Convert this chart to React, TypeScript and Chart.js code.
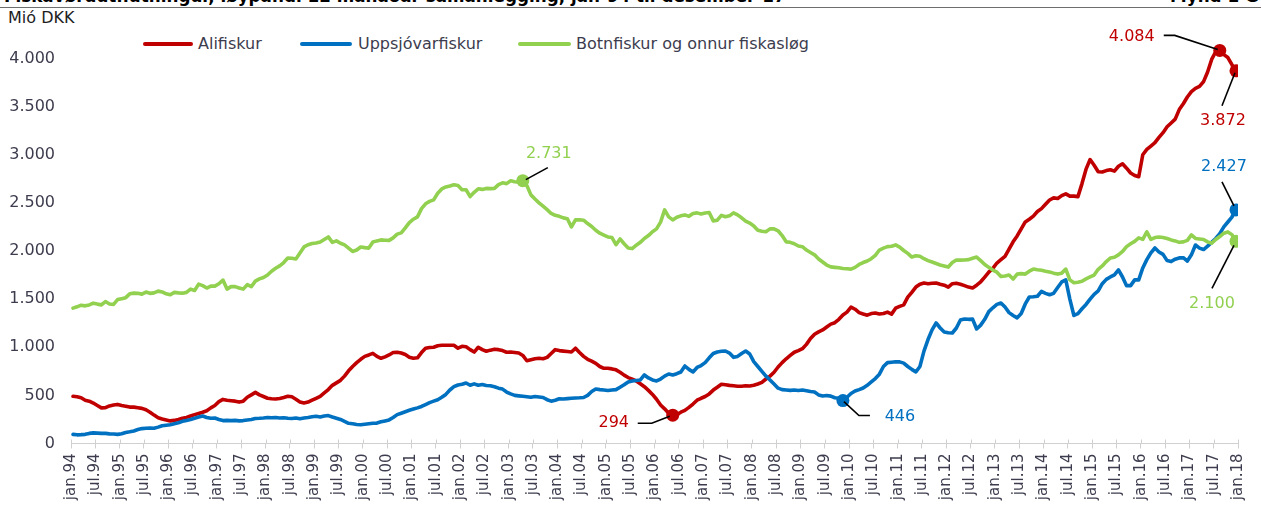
import React, { useEffect, useRef } from 'react';
import { Chart, registerables } from 'chart.js';
Chart.register(...registerables);

const FONT = '"DejaVu Sans", Verdana, sans-serif';
const TEXT = '#3c3c4e';

const seriesNames = ['Alifiskur', 'Uppsjóvarfiskur', 'Botnfiskur og onnur fiskasløg'];
const seriesColors = ['#C00000', '#0070C0', '#92D050'];

const yTicks = [0, 500, 1000, 1500, 2000, 2500, 3000, 3500, 4000];

const tickLabels = [
  'jan.94','jul.94','jan.95','jul.95','jan.96','jul.96','jan.97','jul.97','jan.98','jul.98',
  'jan.99','jul.99','jan.00','jul.00','jan.01','jul.01','jan.02','jul.02','jan.03','jul.03',
  'jan.04','jul.04','jan.05','jul.05','jan.06','jul.06','jan.07','jul.07','jan.08','jul.08',
  'jan.09','jul.09','jan.10','jul.10','jan.11','jul.11','jan.12','jul.12','jan.13','jul.13',
  'jan.14','jul.14','jan.15','jul.15','jan.16','jul.16','jan.17','jul.17','jan.18',
];

// monthly values, jan.94 .. des.17 (mió DKK)
const alifiskur = [
  490,485,475,450,440,420,395,370,372,390,400,406,
  395,388,378,378,372,365,350,325,295,268,255,245,
  235,240,250,262,271,285,300,312,325,340,370,395,
  435,458,450,445,440,430,440,480,505,531,505,488,
  470,465,462,468,478,490,485,460,432,420,430,450,
  470,490,525,560,604,630,656,700,755,800,840,875,
  905,920,937,905,885,900,920,945,948,940,925,896,
  885,890,945,990,998,1000,1015,1020,1021,1020,1020,990,
  1010,1005,975,950,1000,975,958,970,980,975,965,948,
  950,945,940,915,860,870,880,885,880,895,935,975,
  965,960,955,950,990,945,905,875,855,833,800,781,
  781,775,765,740,710,685,668,650,620,590,552,510,
  460,400,360,315,294,300,325,344,375,410,450,470,
  488,515,555,585,615,610,604,600,595,594,600,598,
  605,618,635,670,700,740,795,840,880,915,948,965,
  985,1030,1090,1135,1160,1180,1210,1240,1255,1290,1335,1365,
  1417,1395,1360,1345,1333,1350,1355,1345,1350,1365,1344,1406,
  1425,1440,1520,1570,1625,1655,1667,1660,1665,1667,1655,1645,
  1625,1660,1665,1655,1640,1625,1615,1645,1680,1729,1780,1820,
  1875,1910,1945,2020,2095,2156,2230,2302,2330,2362,2410,2440,
  2485,2530,2552,2545,2575,2594,2570,2570,2565,2700,2850,2950,
  2890,2823,2820,2835,2844,2830,2880,2906,2860,2810,2785,2771,
  3000,3055,3090,3125,3180,3229,3290,3330,3370,3469,3530,3600,
  3656,3690,3710,3760,3860,3990,4070,4084,4040,4010,3935,3872,
];

const uppsjovarfiskur = [
  95,90,92,95,105,110,108,105,105,100,98,95,
  102,115,122,130,145,155,158,160,158,170,185,190,
  195,205,215,230,240,250,262,275,285,270,262,265,
  250,238,240,238,240,235,238,245,250,260,262,265,
  270,268,270,265,268,262,260,265,258,265,270,278,
  283,275,285,290,275,262,250,230,210,205,198,195,
  200,205,210,212,225,235,245,270,300,315,330,345,
  358,370,385,405,425,440,455,480,510,556,590,608,
  615,629,605,620,605,612,603,600,590,575,565,535,
  515,500,495,490,485,480,488,483,478,455,440,450,
  465,462,466,470,473,475,478,500,540,566,560,555,
  550,556,560,585,610,639,650,655,660,712,681,660,
  650,670,700,722,712,725,743,805,770,743,790,810,
  840,890,935,951,958,961,940,895,905,935,961,930,
  850,800,750,700,660,618,575,560,556,552,556,550,
  555,548,540,535,505,494,498,492,475,470,446,480,
  520,545,560,577,605,640,675,720,800,840,845,850,
  848,835,800,770,743,800,960,1080,1180,1252,1200,1158,
  1150,1148,1200,1283,1294,1290,1292,1190,1230,1290,1370,1410,
  1445,1460,1418,1360,1330,1305,1350,1450,1522,1525,1530,1580,
  1560,1545,1560,1620,1678,1699,1500,1330,1350,1400,1445,1500,
  1550,1585,1660,1705,1730,1751,1803,1730,1640,1640,1700,1700,
  1824,1910,1980,2031,1990,1965,1900,1890,1915,1928,1930,1895,
  1960,2062,2030,2015,2050,2090,2130,2180,2250,2301,2353,2427,
];

const botnfiskur = [
  1406,1420,1437,1430,1440,1458,1448,1440,1475,1450,1445,1495,
  1505,1515,1555,1562,1560,1552,1573,1560,1565,1583,1575,1555,
  1545,1570,1565,1562,1570,1604,1590,1656,1640,1615,1635,1635,
  1660,1698,1604,1630,1630,1615,1604,1650,1630,1687,1710,1725,
  1750,1790,1820,1845,1880,1927,1925,1917,1979,2042,2065,2078,
  2083,2094,2120,2146,2090,2105,2080,2063,2030,1995,2010,2042,
  2035,2030,2094,2105,2115,2112,2110,2136,2175,2188,2240,2295,
  2330,2354,2440,2490,2515,2531,2600,2645,2665,2675,2688,2680,
  2636,2636,2565,2610,2646,2640,2650,2648,2650,2690,2708,2700,
  2729,2720,2715,2731,2680,2583,2540,2500,2465,2430,2390,2370,
  2360,2344,2335,2250,2323,2325,2320,2285,2255,2215,2185,2165,
  2146,2140,2065,2125,2075,2031,2025,2060,2090,2130,2160,2200,
  2230,2300,2427,2354,2323,2350,2365,2375,2360,2390,2396,2385,
  2395,2400,2313,2320,2370,2355,2365,2396,2375,2345,2310,2290,
  2260,2215,2205,2200,2230,2230,2210,2160,2095,2090,2075,2052,
  2045,2010,1985,1960,1917,1885,1854,1835,1830,1825,1818,1815,
  1812,1830,1860,1880,1896,1920,1955,2010,2030,2045,2050,2063,
  2040,2005,1975,1937,1950,1945,1920,1900,1885,1870,1855,1845,
  1833,1880,1906,1905,1906,1910,1925,1937,1900,1860,1830,1802,
  1780,1735,1740,1750,1708,1760,1765,1760,1790,1812,1805,1800,
  1790,1781,1770,1760,1770,1812,1700,1670,1675,1685,1710,1730,
  1750,1810,1845,1890,1927,1935,1960,1995,2045,2075,2100,2136,
  2120,2198,2120,2140,2146,2140,2130,2115,2105,2090,2095,2110,
  2167,2130,2125,2120,2095,2080,2120,2150,2185,2198,2170,2100,
];

const seriesValues = [alifiskur, uppsjovarfiskur, botnfiskur];

// annotated points: series, month index
const markedPoints = [
  { series: 0, index: 148 },
  { series: 0, index: 283 },
  { series: 0, index: 287 },
  { series: 1, index: 190 },
  { series: 1, index: 287 },
  { series: 2, index: 111 },
  { series: 2, index: 287 },
];

// leader line path & label position, relative to the marked point (layout only)
const noteLayout = [
  { path: [[-3, 1], [-21, 8], [-35, 8]], label: [-59, 8] },
  { path: [[-2, -1], [-45, -15], [-56, -15]], label: [-88, -14] },
  { path: [[-1, 2], [-14, 35]], label: [-13, 50] },
  { path: [[1, 1], [16, 15], [27, 15]], label: [57, 16] },
  { path: [[-2, -4], [-14, -28]], label: [-12, -43] },
  { path: [[3, -1], [25, -13]], label: [26, -27] },
  { path: [[-2, 4], [-24, 47]], label: [-24, 62] },
];

const fmt = (v: number) => Math.round(v).toString().replace(/\B(?=(\d{3})+(?!\d))/g, '.');

const notesPlugin = {
  id: 'notes',
  afterDatasetsDraw(chart: any) {
    const ctx = chart.ctx;
    markedPoints.forEach((m, k) => {
      const el = chart.getDatasetMeta(m.series).data[m.index];
      if (!el) return;
      const { x, y } = el;
      const lay = noteLayout[k];
      ctx.save();
      ctx.strokeStyle = '#000';
      ctx.lineWidth = 1.6;
      ctx.beginPath();
      lay.path.forEach(([dx, dy], j) => (j ? ctx.lineTo(x + dx, y + dy) : ctx.moveTo(x + dx, y + dy)));
      ctx.stroke();
      ctx.fillStyle = seriesColors[m.series];
      ctx.font = '16px ' + FONT;
      ctx.textAlign = 'center';
      ctx.textBaseline = 'middle';
      ctx.fillText(fmt(seriesValues[m.series][m.index]), x + lay.label[0], y + lay.label[1]);
      ctx.restore();
    });
  },
};

const upTicksPlugin = {
  id: 'upTicks',
  afterDraw(chart: any) {
    const xs = chart.scales.x;
    const ctx = chart.ctx;
    ctx.save();
    ctx.strokeStyle = '#d0d0d0';
    ctx.lineWidth = 1;
    xs.ticks.forEach((t: any) => {
      const px = Math.round(xs.getPixelForValue(t.value)) + 0.5;
      ctx.beginPath();
      ctx.moveTo(px, xs.top - 4);
      ctx.lineTo(px, xs.top);
      ctx.stroke();
    });
    ctx.restore();
  },
};

export default function App() {
  const ref = useRef<HTMLCanvasElement>(null);
  useEffect(() => {
    document.body.style.margin = '0';
    const datasets = seriesValues.map((vals, s) => ({
      label: seriesNames[s],
      data: vals.map((v, i) => ({ x: i + 0.5, y: v })),
      borderColor: seriesColors[s],
      backgroundColor: seriesColors[s],
      borderWidth: 3.6,
      borderJoinStyle: 'round' as const,
      borderCapStyle: 'round' as const,
      tension: 0,
      order: 2 - s,
      pointRadius: (c: any) =>
        markedPoints.some((m) => m.series === s && m.index === c.dataIndex) ? 6.5 : 0,
      pointBorderWidth: 0,
      pointHoverRadius: 0,
    }));
    const chart = new Chart(ref.current!, {
      type: 'line',
      data: { datasets },
      plugins: [notesPlugin, upTicksPlugin],
      options: {
        animation: false,
        responsive: false,
        events: [],
        layout: { padding: { top: 29.6, right: 13, left: 0, bottom: 0 } },
        plugins: { legend: { display: false }, tooltip: { enabled: false }, title: { display: false } },
        scales: {
          x: {
            type: 'linear',
            min: 0,
            max: (tickLabels.length - 1) * 6,
            afterFit: (sc: any) => { sc.height = 62.5; },
            afterBuildTicks: (sc: any) => { sc.ticks = tickLabels.map((_, k) => ({ value: k * 6 })); },
            border: { display: true, color: '#d0d0d0', width: 1 },
            grid: { display: true, drawOnChartArea: false, drawTicks: true, tickLength: 5, color: '#d0d0d0' },
            ticks: {
              autoSkip: false,
              maxRotation: 90,
              minRotation: 90,
              padding: 5,
              color: TEXT,
              font: { family: FONT, size: 15 },
              callback: (v: any) => tickLabels[Math.round(Number(v) / 6)] ?? '',
            },
          },
          y: {
            min: 0,
            max: 4300,
            afterFit: (sc: any) => { sc.width = 71; },
            afterBuildTicks: (sc: any) => { sc.ticks = yTicks.map((v) => ({ value: v })); },
            border: { display: false },
            grid: { display: false, drawTicks: false },
            ticks: {
              autoSkip: false,
              padding: 16,
              color: TEXT,
              font: { family: FONT, size: 16 },
              callback: (v: any) => fmt(Number(v)),
            },
          },
        },
      },
    });
    return () => chart.destroy();
  }, []);

  const legendItems = [
    { x: 143, w: 50, tx: 198 },
    { x: 300, w: 52, tx: 358 },
    { x: 518, w: 53, tx: 576 },
  ];

  return (
    <div style={{ position: 'relative', width: 1261, height: 506, overflow: 'hidden', background: '#fff', fontFamily: FONT }}>
      <div style={{ position: 'absolute', left: 0, top: 0, width: 1261, height: 7, overflow: 'hidden' }}>
        <div style={{ position: 'absolute', left: 4, top: -12, fontWeight: 'bold', fontSize: 16.8, lineHeight: '17px', whiteSpace: 'nowrap', color: '#000' }}>
          Fiskavøruútflutningur, løypandi 12 mánaðar samanlegging, jan-94 til desember-17
        </div>
        <div style={{ position: 'absolute', left: 1170, top: -12, fontWeight: 'bold', fontSize: 16.8, lineHeight: '17px', whiteSpace: 'nowrap', color: '#000' }}>
          Mynd 1 G
        </div>
      </div>
      <div style={{ position: 'absolute', left: 0, top: 7, width: 1261, height: 1, background: '#6e6e6e' }} />
      <div style={{ position: 'absolute', left: 8, top: 8, fontSize: 16, lineHeight: '19px', color: '#1e1e1e' }}>Mió DKK</div>
      {legendItems.map((it, i) => (
        <React.Fragment key={i}>
          <div style={{ position: 'absolute', left: it.x, top: 42, width: it.w, height: 4, borderRadius: 2, background: seriesColors[i] }} />
          <div style={{ position: 'absolute', left: it.tx, top: 34, fontSize: 16, lineHeight: '19px', color: TEXT, whiteSpace: 'nowrap' }}>{seriesNames[i]}</div>
        </React.Fragment>
      ))}
      <canvas ref={ref} width={1261} height={506} style={{ position: 'absolute', left: 0, top: 0, width: 1261, height: 506 }} />
    </div>
  );
}
